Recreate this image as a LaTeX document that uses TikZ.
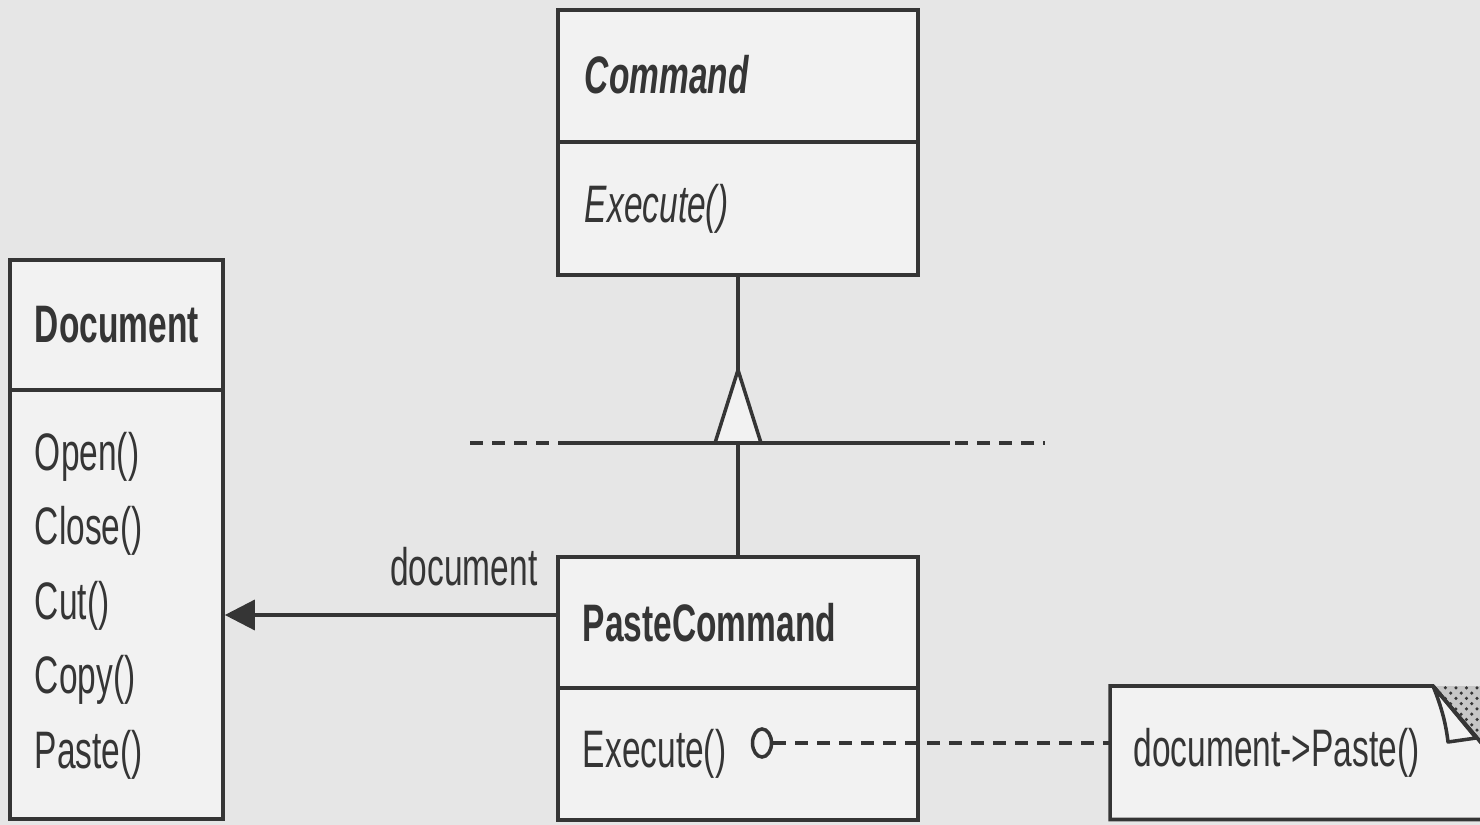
\documentclass[tikz,border=0pt]{standalone}
\usepackage{fontspec}
\setmainfont{Liberation Sans}[FakeStretch=0.635]
\usetikzlibrary{arrows.meta,shapes.geometric,patterns}
\definecolor{ink}{HTML}{353535}
\definecolor{paper}{HTML}{E6E6E6}
\definecolor{boxfill}{HTML}{F2F2F2}
\tikzset{
  umlfont/.style={font={\fontsize{15}{21.2}\selectfont}},
  cls/.style={draw=ink, line width=1pt, fill=boxfill, rectangle, inner ysep=0pt,
    text=ink, align=left, umlfont},
  conn/.style={draw=ink, line width=1pt},
  dsh/.style={conn, dash pattern=on 0.13cm off 0.09cm},
  assoc/.style={conn, -{Triangle[length=0.3cm,width=0.3cm]}},
  lbl/.style={text=ink, umlfont, inner sep=0pt},
}
\begin{document}
\begin{tikzpicture}[x=0.01cm,y=-0.01cm]
\useasboundingbox (0,0) rectangle (1480,825);
\fill[paper] (0,0) rectangle (1480,825);
\clip (0,0) rectangle (1480,825);

% Command
\node[cls, minimum width=3.6cm, minimum height=1.32cm, text width=3.06cm, inner xsep=0.27cm]
  (cmdname) at (738,76) {\raisebox{0.03cm}{\textbf{\textit{Command}}}};
\node[cls, minimum width=3.6cm, minimum height=1.33cm, text width=3.06cm, inner xsep=0.27cm]
  (cmdops) at (738,208.5) {\textit{Execute()}};

% Document
\node[cls, minimum width=2.13cm, minimum height=1.30cm, text width=1.63cm, inner xsep=0.25cm]
  (docname) at (116.5,325) {\textbf{Document}};
\node[cls, minimum width=2.13cm, minimum height=4.29cm, text width=1.63cm, inner xsep=0.25cm]
  (docops) at (116.5,604.5) {\raisebox{-0.05cm}{\begin{tabular}{@{}l@{}}Open()\\Close()\\Cut()\\Copy()\\Paste()\end{tabular}}};

% PasteCommand
\node[cls, minimum width=3.6cm, minimum height=1.31cm, text width=3.1cm, inner xsep=0.25cm]
  (pname) at (738,622.5) {\textbf{PasteCommand}};
\node[cls, minimum width=3.6cm, minimum height=1.32cm, text width=3.1cm, inner xsep=0.25cm]
  (pops) at (738,754) {\raisebox{-0.02cm}{Execute()}};

% Note
\node[rectangle, minimum width=3.74cm, minimum height=1.32cm, text width=3.28cm,
  inner xsep=0.23cm, inner ysep=0pt, align=left, text=ink, umlfont, anchor=north west]
  (note) at (1110,686) {};
\fill[boxfill] (note.north west) -- (1433,686) -- (note.north east |- 0,748) -- (note.south east) -- (note.south west) -- cycle;
\fill[gray!45] (1433,686) -- (note.north east) -- (note.north east |- 0,748) -- cycle;
\fill[pattern=crosshatch dots, pattern color=ink] (1433,686) -- (note.north east) -- (note.north east |- 0,748) -- cycle;
\draw[conn] (note.north west) -- (1433,686) -- (note.north east |- 0,748) -- (note.south east) -- (note.south west) -- cycle;
\draw[conn, fill=boxfill, line join=round] (1433,686) .. controls (1442,708) and (1446,725) .. (1448,742) -- (1476,738) -- cycle;
\draw[conn] (1433,686) -- (note.north east |- 0,748);
\node[lbl, anchor=west] at ([xshift=0.23cm,yshift=0cm]note.west) {document->Paste()};

% Generalization
\coordinate (bar) at (738,443);
\coordinate (apex) at (738,370);
\draw[conn] (cmdops.south) -- (apex);
\draw[conn] (560,443) -- (950,443);
\draw[dsh] (470,443) -- (560,443);
\draw[dsh] (955,443) -- (1045,443);
\draw[conn, fill=boxfill, line join=miter] (apex) -- ([xshift=-0.23cm]bar) -- ([xshift=0.23cm]bar) -- cycle;
\draw[conn] (bar) -- (pname.north);

% Association
\coordinate (a1) at ([yshift=0.075cm]pname.west);
\draw[assoc] (a1) -- (a1 -| docops.east);
\path (a1) ++(-18,-30) node[lbl, anchor=base east] (doclbl) {document};

% Implementation note link
\node[ellipse, draw=ink, line width=1pt, minimum width=0.19cm, minimum height=0.28cm, inner sep=0pt]
  (circ) at (762,743) {};
\draw[dsh] (circ.east) -- (circ.east -| note.west);
\end{tikzpicture}
\end{document}
